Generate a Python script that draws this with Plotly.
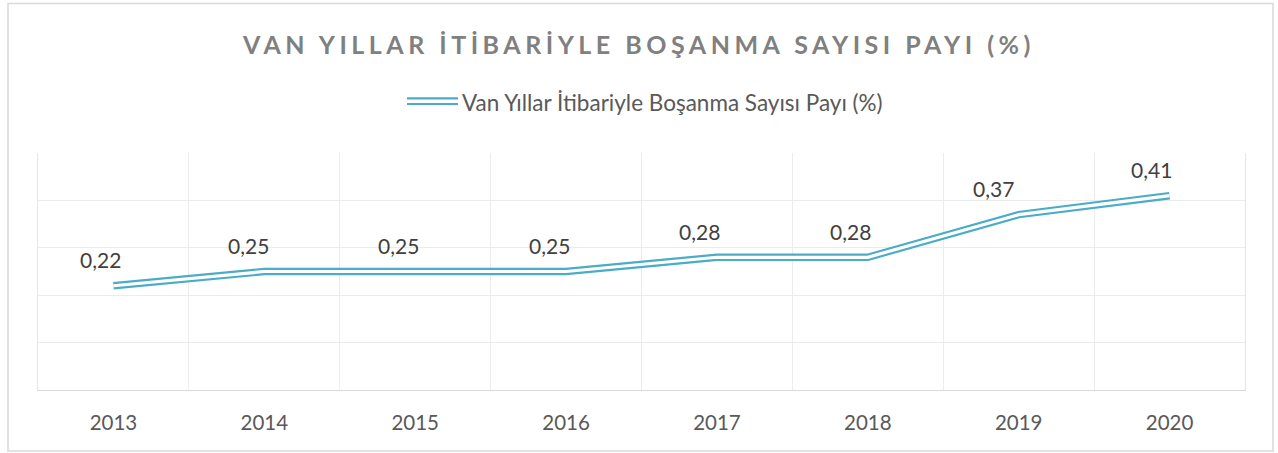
import plotly.graph_objects as go

years = ["2013", "2014", "2015", "2016", "2017", "2018", "2019", "2020"]
values = [0.22, 0.25, 0.25, 0.25, 0.28, 0.28, 0.37, 0.41]
labels = ["0,22", "0,25", "0,25", "0,25", "0,28", "0,28", "0,37", "0,41"]
series_name = "Van Yıllar İtibariyle Boşanma Sayısı Payı (%)"
title_text = "VAN YILLAR İTİBARİYLE BOŞANMA SAYISI PAYI (%)"

label_xshift = [-13, -16, -17, -17, -17, -17, -25, -18]

W, H = 1278, 453
L, R, T, B = 38, 1245, 153, 390
TEAL = "#4BACC6"
FONT = "Lato"


def px(x):
    return (x - L) / (R - L)


def py(y):
    return 1 - (y - T) / (B - T)


fig = go.Figure()
fig.add_trace(go.Scatter(x=years, y=values, mode="lines",
                         line=dict(color=TEAL, width=7.5), showlegend=False,
                         hoverinfo="skip"))
fig.add_trace(go.Scatter(x=years, y=values, mode="lines",
                         line=dict(color="white", width=3.2), showlegend=False,
                         name=series_name))

for i, (v, lab) in enumerate(zip(values, labels)):
    fig.add_annotation(x=i, y=v, xref="x", yref="y", text=lab, showarrow=False,
                       xshift=label_xshift[i], yshift=26,
                       font=dict(family=FONT, size=21, color="#404040"))

# legend (double line symbol + text)
for yy in (98.3, 104.0):
    fig.add_shape(type="line", xref="paper", yref="paper",
                  x0=px(407), x1=px(458), y0=py(yy), y1=py(yy),
                  line=dict(color=TEAL, width=2.2))
fig.add_annotation(xref="paper", yref="paper", x=px(460), y=py(102),
                   xanchor="left", yanchor="middle", showarrow=False,
                   text=series_name,
                   font=dict(family=FONT, size=22.5, color="#595959"))

# outer chart border
fig.add_shape(type="rect", xref="paper", yref="paper",
              x0=px(8), x1=px(1273), y0=py(451), y1=py(3.5),
              line=dict(color="#d9d9d9", width=1.5), layer="below")

fig.update_layout(
    width=W, height=H,
    margin=dict(l=L, r=W - R, t=T, b=H - B, pad=0),
    paper_bgcolor="white", plot_bgcolor="white",
    title=dict(text='<span style="letter-spacing:4.5px">' + title_text + '</span>',
               x=0.5, xanchor="center", xref="container",
               y=1 - 45 / H, yanchor="middle", yref="container",
               font=dict(family=FONT, size=25, color="#808080", weight="bold")),
    showlegend=False,
    xaxis=dict(type="category", range=[-0.5, 7.5], tickson="boundaries",
               showgrid=True, gridcolor="#ececec", gridwidth=1,
               showline=True, linecolor="#d9d9d9", linewidth=1.3,
               ticks="", ticklabelstandoff=14, fixedrange=True,
               tickfont=dict(family=FONT, size=20.5, color="#595959")),
    yaxis=dict(range=[0, 0.5], dtick=0.1, showgrid=True, gridcolor="#ececec",
               gridwidth=1, showticklabels=False, zeroline=False,
               showline=True, mirror=True, linecolor="#e6e6e6", linewidth=1,
               fixedrange=True),
)

fig.write_html("out.html", config={"displayModeBar": False},
               post_script="document.body.style.margin='0px';document.body.style.padding='0px';")
